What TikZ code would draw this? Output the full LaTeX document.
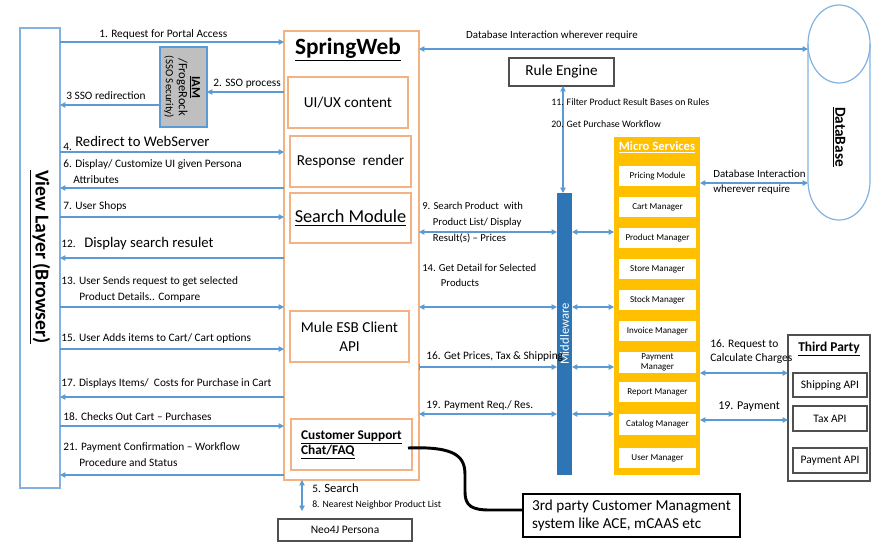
\documentclass[tikz,border=0pt]{standalone}
\usepackage{fontspec}
\setmainfont{Carlito}
\usetikzlibrary{arrows.meta,fit}

\definecolor{arrblue}{RGB}{91,155,213}
\definecolor{viewblue}{RGB}{131,178,224}
\definecolor{springor}{RGB}{244,177,131}
\definecolor{mwblue}{RGB}{46,117,182}
\definecolor{msgold}{RGB}{255,192,0}
\definecolor{iamgray}{RGB}{191,191,191}
\definecolor{boxgray}{RGB}{80,80,80}

\begin{document}
\begin{tikzpicture}[x=0.75pt,y=-0.75pt,
  arr/.style={draw=arrblue,line width=0.8pt,-{Triangle[length=4pt,width=4pt]}},
  darr/.style={arr,{Triangle[length=4pt,width=4pt]}-{Triangle[length=4pt,width=4pt]}},
  lbl/.style={anchor=west,inner sep=0pt,align=left,font=\fontsize{8.5}{12}\selectfont},
  fitbox/.style={inner sep=0pt,outer sep=0pt},
  obox/.style={fitbox,draw=springor,line width=1pt},
  otxt/.style={align=center,font=\fontsize{11.4}{14}\selectfont},
  gbox/.style={fitbox,draw=boxgray,line width=0.9pt},
  gtxt/.style={font=\fontsize{8.6}{10}\selectfont},
  msbox/.style={fitbox,fill=white},
  mstxt/.style={align=center,inner sep=0pt,font=\fontsize{6.8}{7.5}\selectfont}]

\path[use as bounding box] (0,0) rectangle (884,558);

% view layer and SSO
\node[fitbox,draw=viewblue,line width=1pt,fit={(20,28)(60,488)}] (view) {};
\node[rotate=-90,font=\bfseries\fontsize{14.8}{17}\selectfont] at (40,257) {\underline{View Layer (Browser)}};

\node[fitbox,draw=arrblue,fill=iamgray,line width=0.8pt,fit={(160,47)(207,127)}] (iam) {};
\node[rotate=-90,align=center,font=\fontsize{9.4}{9.8}\selectfont] at (182,87)
  {{\bfseries\underline{IAM}}\\/FrogeRock\\{\fontsize{8.2}{9.8}\selectfont(SSO Security)}};

% spring web
\node[fitbox,draw=springor,line width=1pt,fit={(284,31)(419,480)}] (spring) {};
\node[font=\bfseries\fontsize{17.5}{20}\selectfont] at (348,50) {\underline{SpringWeb}};
\node[obox,fit={(288,77)(408,128)},label={[otxt]center:UI/UX content}] (ui) {};
\node[obox,fit={(290,136)(411,187)},label={[otxt]center:Response \ render}] (render) {};
\node[obox,fit={(290,193)(411,243)},label={[otxt,font=\fontsize{13.7}{16}\selectfont]center:\underline{Search Module}}] (search) {};
\node[obox,fit={(290,311)(409,362)},label={[otxt]center:Mule ESB Client\\API}] (mule) {};
\node[obox,fit={(291,419)(412,470)},label={[align=left,font=\bfseries\fontsize{10}{11.5}\selectfont]center:\underline{Customer Support}\\\underline{Chat/FAQ}}] (csc) {};

\node[gbox,fit={(278,519)(412,541)},label={[gtxt]center:Neo4J Persona}] (neo) {};

% browser <-> spring web
\draw[arr] (view.east |- 0,42) -- (spring.west |- 0,42);
\node[lbl] at (99,34) {1. Request for Portal Access};
\draw[arr] (spring.west |- 0,92) -- (iam.east |- 0,92);
\node[lbl] at (213,84) {2. SSO process};
\draw[arr] (iam.west |- 0,105) -- (view.east |- 0,105);
\node[lbl] at (66,96) {3 SSO redirection};
\draw[arr] (view.east |- 0,152) -- (spring.west |- 0,152);
\node[lbl] at (63,147) {4.};
\node[lbl,font=\fontsize{11}{13}\selectfont] at (75,141) {Redirect to WebServer};
\draw[arr] (spring.west |- 0,188) -- (view.east |- 0,188);
\node[lbl] at (63,172) {6. Display/ Customize UI given Persona\\\hspace*{7.5pt}Attributes};
\draw[arr] (view.east |- 0,217) -- (spring.west |- 0,217);
\node[lbl] at (63,206) {7. User Shops};
\draw[arr] (spring.west |- 0,258) -- (view.east |- 0,258);
\node[lbl] at (61,244) {12.};
\node[lbl,font=\fontsize{11}{13}\selectfont] at (84,244) {Display search resulet};
\draw[arr] (view.east |- 0,307) -- (spring.west |- 0,307);
\node[lbl] at (61,289) {13. User Sends request to get selected\\\hspace*{13.5pt}Product Details.. Compare};
\draw[arr] (view.east |- 0,349) -- (spring.west |- 0,349);
\node[lbl] at (61,338) {15. User Adds items to Cart/ Cart options};
\draw[arr] (spring.west |- 0,397) -- (view.east |- 0,397);
\node[lbl] at (61,383) {17. Displays Items/ \ Costs for Purchase in Cart};
\draw[arr] (view.east |- 0,426) -- (spring.west |- 0,426);
\node[lbl] at (63,417) {18. Checks Out Cart -- Purchases};
\draw[arr] (spring.west |- 0,475) -- (view.east |- 0,475);
\node[lbl] at (63,455) {21. Payment Confirmation -- Workflow\\\hspace*{12pt}Procedure and Status};

\draw[darr,shorten >=6pt] (spring.south -| 302,0) -- (neo.north -| 302,0);
\node[lbl] at (312,488) {5. {\fontsize{9.5}{11}\selectfont Search}};
\node[lbl,font=\fontsize{7.3}{9}\selectfont] at (312,505) {8. Nearest Neighbor Product List};

% database
\node[fitbox,fit={(808,5)(870,220)}] (db) {};
\draw[viewblue,line width=0.9pt] (839,44) ellipse [x radius=31,y radius=39];
\draw[viewblue,line width=0.9pt] (808,44) -- (808,181) arc[start angle=180,end angle=360,x radius=31,y radius=-39] -- (870,44);
\node[rotate=-90,font=\bfseries\fontsize{11.5}{13}\selectfont] at (839,137) {\underline{DataBase}};

\draw[darr] (spring.east |- 0,49) -- (db.west |- 0,49);
\node[lbl,anchor=center,font=\fontsize{8.2}{10}\selectfont] at (552,36) {Database Interaction wherever require};

% rule engine and middleware
\node[gbox,fit={(509,58)(614,86)},label={[otxt]center:Rule Engine}] (re) {};
\node[fitbox,fill=mwblue,fit={(557,193)(572,475)}] (mw) {};
\node[rotate=90,text=white,font=\fontsize{9.5}{11}\selectfont] at (564.5,334) {Middleware};
\draw[darr] (re.south -| 563,0) -- (mw.north -| 563,0);
\node[lbl,font=\fontsize{7.4}{10}\selectfont] at (551,102) {11. Filter Product Result Bases on Rules};
\node[lbl,font=\fontsize{7.4}{10}\selectfont] at (551,124) {20. Get Purchase Workflow};

% micro services
\node[fitbox,fill=msgold,fit={(614,137)(700,475)}] (ms) {};
\node[text=white,font=\bfseries\fontsize{9.5}{11}\selectfont] at (657,147) {\underline{Micro Services}};
\node[msbox,fit={(619,166)(696,186)},label={[mstxt]center:Pricing Module}] (pricing) {};
\node[msbox,fit={(619,197)(696,217)},label={[mstxt]center:Cart Manager}] (cart) {};
\node[msbox,fit={(619,228)(696,248)},label={[mstxt]center:Product Manager}] (product) {};
\node[msbox,fit={(619,259)(696,279)},label={[mstxt]center:Store Manager}] (store) {};
\node[msbox,fit={(619,290)(696,310)},label={[mstxt]center:Stock Manager}] (stock) {};
\node[msbox,fit={(619,321)(696,341)},label={[mstxt]center:Invoice Manager}] (invoice) {};
\node[msbox,fit={(619,352)(696,373)},label={[mstxt]center:Payment\\Manager}] (payment) {};
\node[msbox,fit={(619,382)(696,402)},label={[mstxt]center:Report Manager}] (report) {};
\node[msbox,fit={(619,414)(696,435)},label={[mstxt]center:Catalog Manager}] (catalog) {};
\node[msbox,fit={(619,448)(696,468)},label={[mstxt]center:User Manager}] (user) {};

% spring web <-> middleware <-> micro services
\draw[darr] (spring.east |- 0,232) -- (mw.west |- 0,232);
\draw[darr] (mw.east |- 0,232) -- (ms.west |- 0,232);
\node[lbl,font=\fontsize{8}{12}\selectfont] at (422,223) {9. Search Product \ with\\\hspace*{8pt}Product List/ Display\\\hspace*{8pt}Result(s) -- Prices};
\draw[darr] (spring.east |- 0,307) -- (mw.west |- 0,307);
\draw[darr] (mw.east |- 0,307) -- (ms.west |- 0,307);
\node[lbl,font=\fontsize{8}{11.5}\selectfont] at (422,275.5) {14. Get Detail for Selected\\\hspace*{14pt}Products};
\draw[arr,{Bar[width=4pt]}-{Triangle[length=4pt,width=4pt]}] (spring.east |- 0,367) -- (mw.west |- 0,367);
\draw[darr] (mw.east |- 0,367) -- (ms.west |- 0,367);
\node[lbl] at (426,357) {16. Get Prices, Tax \& Shipping};
\draw[darr] (spring.east |- 0,414) -- (mw.west |- 0,414);
\draw[darr] (mw.east |- 0,414) -- (ms.west |- 0,414);
\node[lbl] at (426,405) {19. Payment Req./ Res.};

\draw[darr] (ms.east |- 0,183) -- (db.west |- 0,183);
\node[lbl,font=\fontsize{8.2}{11.2}\selectfont] at (713,182.5) {Database Interaction\\wherever require};

% third party
\node[fitbox,draw=boxgray,line width=0.9pt,fit={(788,335)(870,481)}] (tp) {};
\node[font=\bfseries\fontsize{10.1}{12}\selectfont] at (829,349) {\underline{Third Party}};
\node[gbox,fit={(793,373)(867,397)},label={[gtxt]center:Shipping API}] (ship) {};
\node[gbox,fit={(793,406)(867,431)},label={[gtxt]center:Tax API}] (tax) {};
\node[gbox,fit={(793,448)(867,473)},label={[gtxt]center:Payment API}] (payapi) {};

\draw[darr] (ms.east |- 0,373) -- (tp.west |- 0,373);
\node[lbl,font=\fontsize{8.6}{10}\selectfont] at (710,351.5) {16. Request to\\Calculate Charges};
\draw[darr] (ms.east |- 0,420) -- (tp.west |- 0,420);
\node[lbl,font=\fontsize{9}{11}\selectfont] at (718,407) {19. Payment};

% customer management
\node[fitbox,draw=black,line width=2pt,fit={(523,494)(740,537)},
  label={[align=left,font=\fontsize{11.4}{14}\selectfont]center:{3rd party Customer Managment\\system like ACE, mCAAS etc}}] (cust) {};
\draw[line width=2.2pt] ([xshift=-3pt]csc.east |- 0,448) .. controls (458,446) and (465,458) .. (465,475)
  -- (465,492) .. controls (465,506) and (472,510) .. (490,510) -- (cust.west |- 0,510);

\end{tikzpicture}
\end{document}
